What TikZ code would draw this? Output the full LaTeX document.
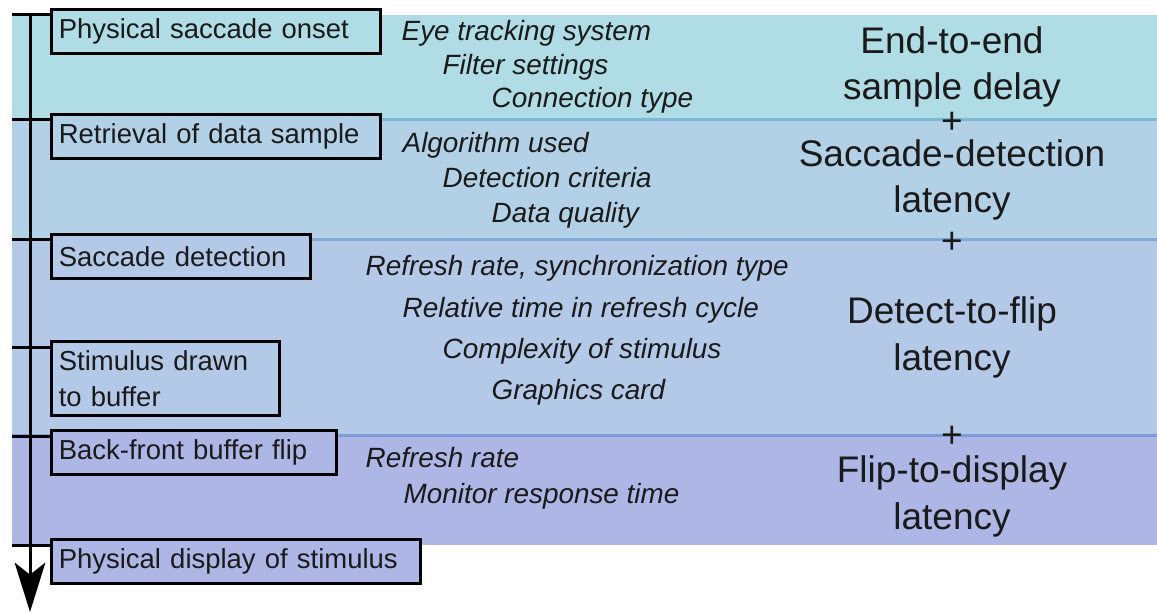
\documentclass[tikz,border=0pt]{standalone}
\usepackage{fontspec}
\setmainfont{Liberation Sans}
\usetikzlibrary{arrows.meta}

\definecolor{bandA}{HTML}{B0DCE6}
\definecolor{bandB}{HTML}{B3D1E6}
\definecolor{bandC}{HTML}{B4C9E8}
\definecolor{bandD}{HTML}{AEB6E6}
\definecolor{sepA}{HTML}{7DB8D8}
\definecolor{sepB}{HTML}{80ABD9}
\definecolor{sepC}{HTML}{7E9BD9}
\definecolor{ink}{HTML}{1A1A1A}

\begin{document}
\begin{tikzpicture}[x=0.75pt, y=-0.75pt,
    stagebox/.style={draw, line width=2.25pt, anchor=north west, align=left, text=ink,
        inner xsep=5.5pt, minimum height=33pt, font=\fontsize{20.6pt}{27pt}\selectfont},
    factor/.style={anchor=base west, text=ink, font=\fontsize{20.9pt}{25pt}\selectfont\itshape},
    delay/.style={anchor=base, align=center, text=ink, font=\fontsize{27.75pt}{35pt}\selectfont},
    plus/.style={text=ink, inner sep=0pt, font=\fontsize{27.75pt}{35pt}\selectfont},
    tick/.style={line width=2.25pt}]

\useasboundingbox (0,0) rectangle (1157,613);

% bands for the four delay components
\fill[bandA] (12,15) rectangle (1157,120);
\fill[bandB] (12,120) rectangle (1157,240);
\fill[bandC] (12,240) rectangle (1157,435);
\fill[bandD] (12,435) rectangle (1157,545);
\draw[sepA, line width=2.25pt] (12,120) -- (1157,120);
\draw[sepB, line width=2.25pt] (12,240) -- (1157,240);
\draw[sepC, line width=2.25pt] (12,435) -- (1157,435);

% events along the time axis
\node at (50,8) [stagebox, fill=bandA, text width=236pt] (onset) {Physical saccade onset};
\node at (50,113) [stagebox, fill=bandB, text width=236pt] (retrieval) {Retrieval of data sample};
\node at (50,233) [stagebox, fill=bandC, text width=183pt] (detection) {Saccade detection};
\node at (50,340) [stagebox, fill=bandC, text width=160pt, minimum height=55.5pt] (drawn) {Stimulus drawn\\to buffer};
\node at (50,429) [stagebox, fill=bandD, text width=203pt] (flip) {Back-front buffer flip};
\node at (50,538) [stagebox, fill=bandD, text width=266pt] (display) {Physical display of stimulus};

% time axis
\coordinate (start) at (30,15);
\coordinate (end) at (30,612);
\draw[line width=2.25pt, -{Stealth[length=37pt, width=23pt, inset=9pt]}] (start) -- (end);

\coordinate (t-onset) at (12,15);
\coordinate (t-retrieval) at (12,120);
\coordinate (t-detection) at (12,240);
\coordinate (t-drawn) at (12,347);
\coordinate (t-flip) at (12,436);
\coordinate (t-display) at (12,545);
\draw[tick] (t-onset) -- (t-onset -| onset.west);
\draw[tick] (t-retrieval) -- (t-retrieval -| retrieval.west);
\draw[tick] (t-detection) -- (t-detection -| detection.west);
\draw[tick] (t-drawn) -- (t-drawn -| drawn.west);
\draw[tick] (t-flip) -- (t-flip -| flip.west);
\draw[tick] (t-display) -- (t-display -| display.west);

% factors that set each delay
\node at (397,41) [factor] (eyetracker) {Eye tracking system};
\node at (438,75) [factor] (filter) {Filter settings};
\node at (487,108) [factor] (connection) {Connection type};
\node at (398,153) [factor] (algorithm) {Algorithm used};
\node at (438,188) [factor] (criteria) {Detection criteria};
\node at (487,223) [factor] (quality) {Data quality};
\node at (361,276) [factor] (sync) {Refresh rate, synchronization type};
\node at (398,317) [factor] (phase) {Relative time in refresh cycle};
\node at (438,358) [factor] (complexity) {Complexity of stimulus};
\node at (487,399) [factor] (card) {Graphics card};
\node at (361,467) [factor] (refresh) {Refresh rate};
\node at (399,503) [factor] (response) {Monitor response time};

% delay components, summed
\node at (952,100) [delay] (e2e) {End-to-end\\sample delay};
\node at (952,123) [plus] (plusA) {+};
\node at (952,213) [delay] (sdl) {Saccade-detection\\latency};
\node at (952,243) [plus] (plusB) {+};
\node at (952,370) [delay] (d2f) {Detect-to-flip\\latency};
\node at (952,437) [plus] (plusC) {+};
\node at (952,529) [delay] (f2d) {Flip-to-display\\latency};
\end{tikzpicture}
\end{document}
